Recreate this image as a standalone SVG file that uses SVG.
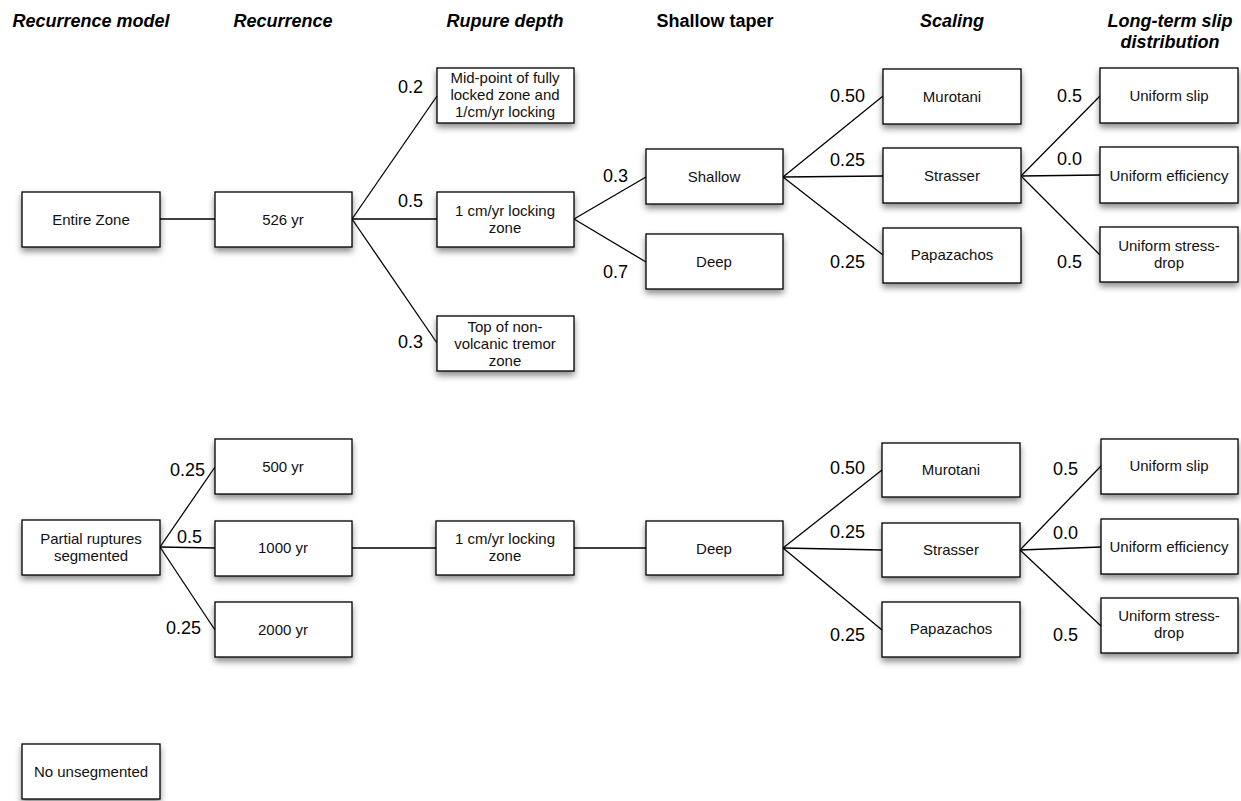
<svg xmlns="http://www.w3.org/2000/svg" width="1241" height="801" viewBox="0 0 1241 801">
<defs>
<filter id="sh" x="-10%" y="-20%" width="120%" height="150%">
<feDropShadow dx="0" dy="4" stdDeviation="3" flood-color="#000" flood-opacity="0.45"/>
</filter>
<style>
.box{fill:#fff;stroke:#000;stroke-width:1.3;filter:url(#sh)}
.t{font-family:"Liberation Sans",Arial,sans-serif;font-size:15px;fill:#111;text-anchor:middle}
.h{font-family:"Liberation Sans",Arial,sans-serif;font-size:18px;font-weight:bold;font-style:italic;fill:#000;text-anchor:middle}
.hn{font-style:normal}
.p{font-family:"Liberation Sans",Arial,sans-serif;font-size:18px;fill:#000}
.c line{stroke:#000;stroke-width:1.3}
</style>
</defs>
<rect width="1241" height="801" fill="#fff"/>

<g id="headers">
<text class="h" x="91" y="27">Recurrence model</text>
<text class="h" x="283" y="27">Recurrence</text>
<text class="h" x="505" y="27">Rupure depth</text>
<text class="h hn" x="715" y="27">Shallow taper</text>
<text class="h" x="952" y="27">Scaling</text>
<text class="h" x="1170" y="27">Long-term slip</text>
<text class="h" x="1170" y="48">distribution</text>
</g>

<g id="connectors" class="c">
<line x1="160" y1="219" x2="215" y2="219"/>
<line x1="352" y1="219" x2="437" y2="96"/>
<line x1="352" y1="219" x2="437" y2="219"/>
<line x1="352" y1="219" x2="437" y2="343"/>
<line x1="574" y1="219" x2="646" y2="177"/>
<line x1="574" y1="219" x2="646" y2="262"/>
<line x1="783" y1="177" x2="883" y2="96"/>
<line x1="783" y1="177" x2="883" y2="176"/>
<line x1="783" y1="177" x2="883" y2="255"/>
<line x1="1021" y1="176" x2="1100" y2="96"/>
<line x1="1021" y1="176" x2="1100" y2="175"/>
<line x1="1021" y1="176" x2="1100" y2="255"/>
<line x1="160" y1="547" x2="215" y2="467"/>
<line x1="160" y1="547" x2="215" y2="548"/>
<line x1="160" y1="547" x2="215" y2="630"/>
<line x1="352" y1="548" x2="436" y2="548"/>
<line x1="574" y1="548" x2="646" y2="548"/>
<line x1="783" y1="548" x2="882" y2="470"/>
<line x1="783" y1="548" x2="882" y2="550"/>
<line x1="783" y1="548" x2="882" y2="630"/>
<line x1="1020" y1="550" x2="1101" y2="466"/>
<line x1="1020" y1="550" x2="1101" y2="547"/>
<line x1="1020" y1="550" x2="1101" y2="626"/>
</g>

<g id="labels">
<text class="p" x="398" y="93">0.2</text>
<text class="p" x="398" y="207">0.5</text>
<text class="p" x="398" y="348">0.3</text>
<text class="p" x="603" y="182">0.3</text>
<text class="p" x="603" y="278">0.7</text>
<text class="p" x="830" y="102">0.50</text>
<text class="p" x="830" y="166">0.25</text>
<text class="p" x="830" y="268">0.25</text>
<text class="p" x="1057" y="102">0.5</text>
<text class="p" x="1057" y="165">0.0</text>
<text class="p" x="1057" y="268">0.5</text>
<text class="p" x="170" y="476">0.25</text>
<text class="p" x="177" y="543">0.5</text>
<text class="p" x="166" y="634">0.25</text>
<text class="p" x="830" y="474">0.50</text>
<text class="p" x="830" y="538">0.25</text>
<text class="p" x="830" y="641">0.25</text>
<text class="p" x="1053" y="475">0.5</text>
<text class="p" x="1053" y="539">0.0</text>
<text class="p" x="1053" y="641">0.5</text>
</g>

<g id="entire-zone"><rect class="box" x="22" y="192" width="138" height="55"/><text class="t" x="91" y="225">Entire Zone</text></g>
<g id="rec-526"><rect class="box" x="215" y="192" width="137" height="55"/><text class="t" x="283" y="225">526 yr</text></g>
<g id="midpoint"><rect class="box" x="437" y="68" width="137" height="55"/><text class="t" x="505" y="83">Mid-point of fully</text><text class="t" x="505" y="100">locked zone and</text><text class="t" x="505" y="117">1/cm/yr locking</text></g>
<g id="locking-top"><rect class="box" x="437" y="192" width="137" height="55"/><text class="t" x="505" y="216">1 cm/yr locking</text><text class="t" x="505" y="233">zone</text></g>
<g id="tremor"><rect class="box" x="437" y="316" width="137" height="55"/><text class="t" x="505" y="332">Top of non-</text><text class="t" x="505" y="349">volcanic tremor</text><text class="t" x="505" y="366">zone</text></g>
<g id="shallow"><rect class="box" x="646" y="149" width="137" height="55"/><text class="t" x="714" y="182">Shallow</text></g>
<g id="deep-top"><rect class="box" x="646" y="234" width="137" height="55"/><text class="t" x="714" y="267">Deep</text></g>
<g id="murotani-top"><rect class="box" x="883" y="69" width="138" height="55"/><text class="t" x="952" y="102">Murotani</text></g>
<g id="strasser-top"><rect class="box" x="883" y="148" width="138" height="55"/><text class="t" x="952" y="181">Strasser</text></g>
<g id="papazachos-top"><rect class="box" x="883" y="228" width="138" height="55"/><text class="t" x="952" y="260">Papazachos</text></g>
<g id="uslip-top"><rect class="box" x="1100" y="68" width="138" height="55"/><text class="t" x="1169" y="101">Uniform slip</text></g>
<g id="ueff-top"><rect class="box" x="1100" y="147" width="138" height="56"/><text class="t" x="1169" y="181">Uniform efficiency</text></g>
<g id="ustress-top"><rect class="box" x="1100" y="227" width="138" height="55"/><text class="t" x="1169" y="251">Uniform stress-</text><text class="t" x="1169" y="268">drop</text></g>

<g id="partial"><rect class="box" x="22" y="520" width="138" height="55"/><text class="t" x="91" y="544">Partial ruptures</text><text class="t" x="91" y="561">segmented</text></g>
<g id="rec-500"><rect class="box" x="215" y="439" width="137" height="55"/><text class="t" x="283" y="472">500 yr</text></g>
<g id="rec-1000"><rect class="box" x="215" y="521" width="137" height="55"/><text class="t" x="283" y="553">1000 yr</text></g>
<g id="rec-2000"><rect class="box" x="215" y="602" width="137" height="55"/><text class="t" x="283" y="635">2000 yr</text></g>
<g id="locking-bottom"><rect class="box" x="436" y="521" width="138" height="54"/><text class="t" x="505" y="544">1 cm/yr locking</text><text class="t" x="505" y="561">zone</text></g>
<g id="deep-bottom"><rect class="box" x="646" y="521" width="137" height="54"/><text class="t" x="714" y="554">Deep</text></g>
<g id="murotani-bottom"><rect class="box" x="882" y="443" width="138" height="54"/><text class="t" x="951" y="475">Murotani</text></g>
<g id="strasser-bottom"><rect class="box" x="882" y="523" width="138" height="54"/><text class="t" x="951" y="555">Strasser</text></g>
<g id="papazachos-bottom"><rect class="box" x="882" y="602" width="138" height="55"/><text class="t" x="951" y="634">Papazachos</text></g>
<g id="uslip-bottom"><rect class="box" x="1101" y="439" width="137" height="55"/><text class="t" x="1169" y="471">Uniform slip</text></g>
<g id="ueff-bottom"><rect class="box" x="1101" y="519" width="137" height="55"/><text class="t" x="1169" y="552">Uniform efficiency</text></g>
<g id="ustress-bottom"><rect class="box" x="1101" y="598" width="137" height="55"/><text class="t" x="1169" y="621">Uniform stress-</text><text class="t" x="1169" y="638">drop</text></g>

<g id="no-unsegmented"><rect class="box" x="22" y="744" width="138" height="55"/><text class="t" x="91" y="777">No unsegmented</text></g>
</svg>
